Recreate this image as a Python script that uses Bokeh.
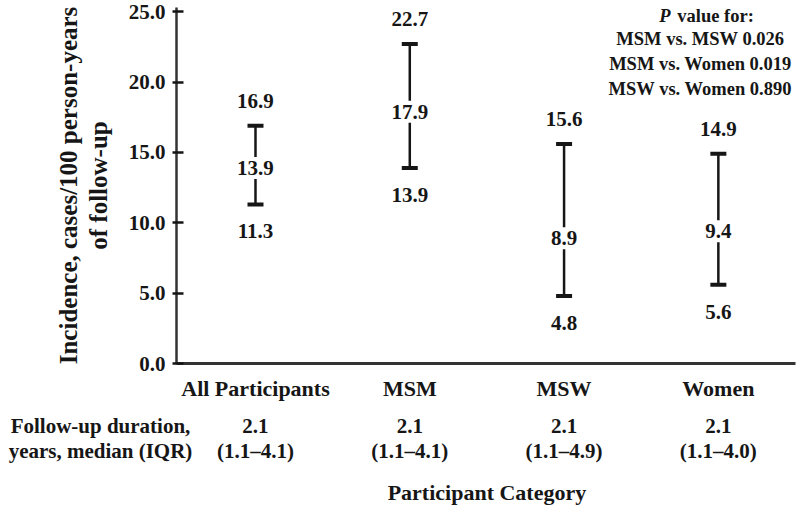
from bokeh.plotting import figure
from bokeh.layouts import column
from bokeh.models import ColumnDataSource, Label, Range1d, FixedTicker, PrintfTickFormatter
from bokeh.core.properties import value
from bokeh.embed import file_html
from bokeh.resources import INLINE

# ---- data ----
categories = ["All Participants", "MSM", "MSW", "Women"]
incidence = [13.9, 17.9, 8.9, 9.4]
lower = [11.3, 13.9, 4.8, 5.6]
upper = [16.9, 22.7, 15.6, 14.9]
fu_median = ["2.1", "2.1", "2.1", "2.1"]
fu_iqr = ["(1.1\u20134.1)", "(1.1\u20134.1)", "(1.1\u20134.9)", "(1.1\u20134.0)"]
row_labels = ["Follow-up duration,", "years, median (IQR)"]
x_title = "Participant Category"
p_title = "value for:"
p_lines = ["MSM vs. MSW 0.026", "MSM vs. Women 0.019", "MSW vs. Women 0.890"]
y_ticks = [0, 5, 10, 15, 20, 25]

FONT = "Liberation Serif"
INK = "#161616"

# ---- layout constants ----
W = 796
LEFT = 176
RIGHT = 1
H1 = 405
H2 = 100
X0, X1 = 0.488, 4.5

xs = [i + 1 for i in range(len(categories))]
src = ColumnDataSource(dict(
    x=xs, mid=incidence, lo=lower, hi=upper,
    mid_t=[f"{v:.1f}" for v in incidence],
    lo_t=[f"{v:.1f}" for v in lower],
    hi_t=[f"{v:.1f}" for v in upper],
))

p = figure(width=W, height=H1, output_backend="svg", toolbar_location=None,
           x_range=Range1d(X0, X1), y_range=Range1d(0, 25.3),
           min_border_left=LEFT, min_border_right=RIGHT, min_border_top=7,
           min_border_bottom=H1 - 363, frame_align=False)
p.outline_line_color = None
p.grid.visible = False

# y axis
ya = p.yaxis[0]
ya.ticker = FixedTicker(ticks=y_ticks)
ya.formatter = PrintfTickFormatter(format="%.1f")
ya.minor_tick_line_color = None
ya.major_tick_in = 7
ya.major_tick_out = 4
ya.major_tick_line_width = 2.5
ya.major_tick_line_color = INK
ya.axis_line_width = 2.5
ya.axis_line_color = "#333333"
ya.major_label_standoff = 7
ya.major_label_text_font = FONT
ya.major_label_text_font_style = "bold"
ya.major_label_text_font_size = "21px"
ya.major_label_text_color = INK
ya.axis_label = "Incidence, cases/100 person-years\nof follow-up"
ya.axis_label_text_font = FONT
ya.axis_label_text_font_style = "bold"
ya.axis_label_text_font_size = "25px"
ya.axis_label_text_line_height = 1.1
ya.axis_label_text_color = INK
ya.axis_label_standoff = 14

# x axis
xa = p.xaxis[0]
xa.ticker = FixedTicker(ticks=xs)
xa.major_label_overrides = {x: c for x, c in zip(xs, categories)}
xa.major_tick_line_color = None
xa.minor_tick_line_color = None
xa.major_tick_out = 0
xa.major_tick_in = 0
xa.axis_line_width = 3
xa.axis_line_color = "#333333"
xa.major_label_standoff = 12
xa.major_label_text_font = FONT
xa.major_label_text_font_style = "bold"
xa.major_label_text_font_size = "22px"
xa.major_label_text_color = INK

# error bars
p.segment(x0="x", y0="lo", x1="x", y1="hi", source=src, line_width=2.5, line_color=INK)
p.scatter(x="x", y="lo", source=src, marker="dash", size=16, line_width=4, line_color=INK)
p.scatter(x="x", y="hi", source=src, marker="dash", size=16, line_width=4, line_color=INK)

common = dict(text_align="center", text_baseline="middle", text_font_size="21px",
              text_font_style="bold", text_color=INK, text_font=value(FONT))
p.text(x="x", y="mid", text="mid_t", source=src, background_fill_color="white",
       padding=4, **common)
p.text(x="x", y="hi", text="hi_t", source=src, y_offset=-25, **common)
p.text(x="x", y="lo", text="lo_t", source=src, y_offset=27, **common)

# p-value block (inside the plot frame, top right)
plab = dict(text_font=FONT, text_font_style="bold", text_font_size="18.5px",
            text_color=INK, text_baseline="middle")
p.add_layout(Label(x=xs[-1], y=25, x_offset=-59, y_offset=-4, text="P",
                   text_align="left", **dict(plab, text_font_style="bold italic")))
p.add_layout(Label(x=xs[-1], y=25, x_offset=-41, y_offset=-4, text=p_title,
                   text_align="left", **plab))
for i, t in enumerate(p_lines):
    p.add_layout(Label(x=xs[-1], y=25, x_offset=-18, y_offset=-27 - 25 * i, text=t,
                       text_align="center", **plab))

# ---- follow-up table below, aligned with the category positions ----
px_per = (W - LEFT - RIGHT) / (X1 - X0)
x2_start = X0 - LEFT / px_per
x2_end = X0 + (W - LEFT) / px_per
t = figure(width=W, height=H2, output_backend="svg", toolbar_location=None,
           x_range=Range1d(x2_start, x2_end), y_range=Range1d(H2, 0),
           x_axis_location=None, y_axis_location=None, frame_align=False,
           min_border_left=0, min_border_right=0, min_border_top=0, min_border_bottom=0)
t.outline_line_color = None
t.grid.visible = False

tsrc = ColumnDataSource(dict(x=xs, med=fu_median, iqr=fu_iqr))
row_y = [20, 45]
t.text(x="x", y=row_y[0], text="med", source=tsrc, **common)
t.text(x="x", y=row_y[1], text="iqr", source=tsrc, **common)
rsrc = ColumnDataSource(dict(x=[xs[0]] * len(row_labels), y=row_y, txt=row_labels))
t.text(x="x", y="y", text="txt", source=rsrc, x_offset=-155, **common)
t.text(x=[sum(xs) / len(xs)], y=[87], text=[x_title],
       **dict(common, text_font_size="22px"))

layout = column(p, t, spacing=0)
open("out.html", "w").write(file_html(layout, INLINE))
